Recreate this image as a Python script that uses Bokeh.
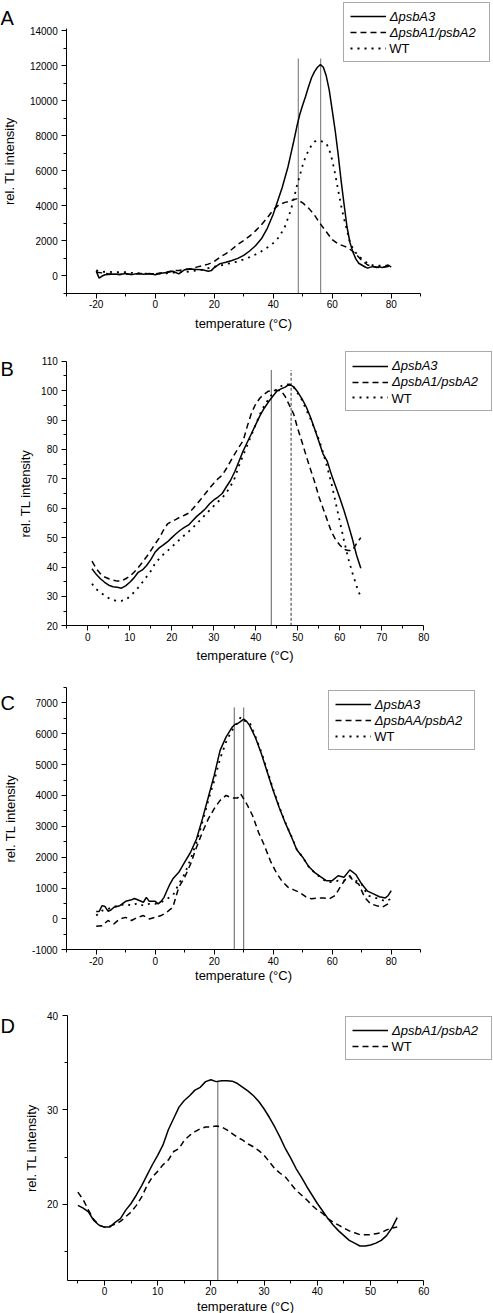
from bokeh.plotting import figure
from bokeh.layouts import column
from bokeh.models import Legend, LegendItem, Label, FixedTicker, Range1d
from bokeh.embed import file_html
from bokeh.resources import INLINE

FONT = "Liberation Sans"

# ---------------- DATA ----------------
# Panel A
a_t_psbA3 = [-20, -19, -18, -17, -16, -14, -12, -10, -8, -6, -4, -2, 0, 2, 4, 6, 8, 10, 12, 14, 16, 18, 19, 20,
             22, 24, 26, 28, 30, 32, 34, 36, 38, 40, 41, 42, 43, 44, 45, 46, 47, 48, 49, 50, 51, 52, 53, 54,
             55, 56, 57, 58, 59, 60, 61, 62, 63, 64, 65, 66, 67, 68, 69, 70, 71, 72, 73, 74, 75, 76, 77, 78, 79, 80]
a_psbA3 = [250, -150, -30, 40, 60, 90, 60, 110, 50, 120, 70, 110, 40, 130, 170, 240, 90, 330, 370, 350, 330, 240, 280, 450,
           680, 760, 860, 980, 1150, 1400, 1700, 2100, 2700, 3500, 4000, 4500, 5000, 5600, 6200, 6950, 7700, 8500, 9200, 9750, 10250, 10800, 11300, 11650,
           11900, 12050, 11900, 11400, 10600, 9450, 8300, 6950, 5450, 4100, 2800, 1900, 1350, 950, 700, 600, 500, 420, 480, 520, 460, 500, 450, 520, 600, 480]
a_t_psbA12 = [-20, -18, -16, -14, -12, -10, -8, -6, -4, -2, 0, 2, 4, 6, 8, 10, 12, 14, 16, 18, 20, 22, 24, 26, 28,
              30, 32, 34, 36, 38, 40, 42, 44, 46, 47, 48, 49, 50, 52, 54, 56, 58, 60, 62, 64, 65, 66, 68, 70, 72,
              74, 76, 78, 80]
a_psbA12 = [190, 150, 100, 80, 60, 90, 60, 100, 110, 90, 95, 150, 200, 280, 280, 350, 380, 480, 560, 650, 800, 1050, 1250, 1500, 1780,
            2000, 2250, 2550, 2900, 3300, 3750, 4050, 4180, 4250, 4350, 4380, 4250, 4150, 3850, 3450, 2950, 2500, 2050, 1800, 1680, 1620, 1500, 1240, 860, 600,
            500, 450, 480, 560]
a_t_wt = [-20, -18, -16, -14, -12, -10, -8, -6, -4, -2, 0, 2, 4, 6, 8, 10, 12, 14, 16, 18, 20, 22, 24, 26, 28, 30,
          32, 34, 36, 38, 40, 42, 44, 46, 47, 48, 49, 50, 51, 52, 53, 54, 55, 56, 57, 58, 59, 60, 61, 62, 63, 64,
          65, 66, 67, 68, 70, 72, 74, 76, 78, 80]
a_wt = [290, 200, 230, 180, 200, 190, 150, 130, 110, 100, 95, 120, 130, 160, 180, 200, 240, 280, 330, 420, 500, 570, 650, 720, 800, 920,
        1050, 1200, 1380, 1600, 1850, 2200, 2800, 3750, 4400, 5100, 5700, 6300, 6800, 7150, 7450, 7650, 7720, 7700, 7620, 7550, 7200, 6600, 5800, 4900, 4000, 3250,
        2600, 1900, 1550, 1300, 950, 700, 560, 560, 560, 570]
a_peaks = [48.5, 56.1]
a_peak_top = 12400

# Panel B
b_t = list(range(1, 66))
b_psbA3 = [39.4, 37.5, 36.0, 34.8, 33.8, 33.3, 33.1, 32.8, 33.6, 34.8, 36.3, 38.2, 39.0, 40.5, 42.5, 45.0, 46.5, 47.5, 48.6, 50.0,
           51.3, 52.5, 53.5, 54.3, 55.8, 57.3, 58.5, 59.8, 61.5, 62.8, 63.8, 65.0, 67.3, 69.5, 72.5, 76.0, 79.5, 82.5, 85.5, 88.5,
           91.5, 94.0, 96.1, 98.0, 99.8, 100.6, 101.2, 102.2, 101.3, 99.5, 97.2, 94.5, 91.0, 87.0, 82.8, 78.5, 76.0, 71.5, 67.5, 63.5,
           59.2, 54.5, 49.5, 44.0, 39.6]
b_psbA12 = [42.0, 39.5, 37.7, 36.6, 36.0, 35.5, 35.2, 35.2, 36.0, 36.8, 38.2, 39.8, 41.6, 43.5, 45.6, 47.8, 49.8, 52.5, 54.7, 55.5,
            56.2, 57.0, 57.6, 58.3, 59.8, 61.5, 63.2, 65.0, 66.8, 68.5, 70.0, 71.2, 73.5, 76.0, 78.5, 80.8, 83.0, 88.0, 92.5, 95.5,
            97.5, 98.8, 99.8, 100.0, 100.0, 100.0, 98.0, 95.0, 92.1, 87.0, 82.5, 77.8, 73.3, 69.0, 64.0, 60.0, 56.0, 52.0, 49.3, 47.5,
            46.0, 45.6, 45.6, 48.0, 50.0]
b_wt = [34.3, 32.5, 31.4, 30.3, 29.4, 28.8, 28.4, 28.5, 28.8, 30.0, 31.4, 33.0, 34.8, 36.7, 38.6, 41.2, 42.8, 44.3, 45.5, 46.8,
        48.2, 49.5, 50.8, 52.0, 53.4, 54.8, 56.3, 57.8, 59.3, 60.8, 62.2, 63.5, 65.3, 67.5, 70.3, 74.5, 78.0, 81.5, 85.0, 88.5,
        92.0, 94.8, 97.0, 99.0, 100.5, 101.5, 102.2, 102.0, 101.2, 99.0, 96.8, 93.5, 90.5, 87.0, 83.5, 79.0, 74.0, 68.5, 62.0, 55.5,
        49.0, 43.0, 38.0, 33.5, 29.7]
b_peak_solid = 43.7
b_peak_dashed = 48.4
b_peak_top = 107

# Panel C
c_t_psbA3 = [-20, -19, -18, -17, -16, -15, -14, -12, -10, -8, -7, -6, -4, -3, -2, 0, 1, 2, 3, 4, 5, 6, 8, 10, 12,
             14, 16, 18, 20, 22, 24, 26, 27, 28, 29, 30, 31, 32, 34, 36, 38, 40, 42, 44, 46, 48, 50, 52, 54, 56,
             58, 60, 62, 64, 66, 68, 70, 72, 74, 76, 78, 79, 80]
c_psbA3 = [240, 240, 430, 400, 250, 290, 380, 430, 570, 620, 660, 620, 540, 700, 570, 570, 490, 570, 700, 920, 1130, 1300, 1510, 1840, 2160,
           2590, 3240, 3940, 4650, 5460, 5890, 6200, 6300, 6330, 6400, 6470, 6400, 6270, 5870, 5350, 4750, 4160, 3620, 3130, 2700, 2240, 2000, 1700, 1510, 1370,
           1240, 1240, 1400, 1350, 1590, 1440, 1130, 900, 810, 720, 680, 760, 920]
c_t_psbA12 = [-20, -18, -16, -14, -12, -10, -8, -6, -4, -2, 0, 2, 4, 6, 8, 10, 12, 14, 16, 18, 20, 22, 24, 26, 28,
              29, 30, 31, 33, 35, 37, 39, 41, 43, 45, 47, 49, 51, 53, 55, 57, 59, 61, 63, 65, 66, 67, 69, 71, 73,
              75, 77, 79, 80]
c_psbA12 = [-240, -220, -50, -160, 0, 50, -50, 50, 110, 0, 50, 110, 220, 380, 1030, 1350, 1780, 2320, 2810, 3240, 3570, 3840, 4000, 3920, 3920,
            4050, 3890, 3730, 3350, 2810, 2380, 1890, 1510, 1220, 1030, 940, 860, 720, 650, 680, 680, 650, 760, 1080, 1350, 1400, 1240, 1130, 700, 490,
            430, 380, 490, 490]
c_t_wt = [-20, -18, -16, -14, -12, -10, -8, -6, -4, -2, 0, 2, 4, 6, 8, 10, 12, 14, 16, 18, 20, 22, 24, 26, 28,
          29, 30, 32, 34, 36, 38, 40, 42, 44, 46, 48, 50, 52, 54, 56, 58, 60, 62, 64, 66, 68, 70, 72, 74, 76,
          78, 80]
c_wt = [110, 270, 320, 400, 430, 490, 430, 510, 430, 490, 490, 540, 650, 760, 1130, 1460, 1940, 2480, 3130, 3840, 4480, 5190, 5730, 6100, 6370,
        6540, 6430, 6370, 5900, 5400, 4800, 4200, 3650, 3150, 2720, 2250, 2000, 1700, 1500, 1350, 1200, 1190, 1240, 1240, 1350, 1240, 1130, 760, 700, 650,
        570, 650]
c_peaks = [26.8, 30.0]
c_peak_top = 6850

# Panel D
d_t = [-5, -4, -3, -2, -1, 0, 1, 2, 3, 4, 5, 6, 7, 8, 9, 10, 11, 12, 13, 14, 15, 16, 17, 18, 19, 20, 21, 22, 23,
       24, 25, 26, 27, 28, 29, 30, 31, 32, 33, 34, 35, 36, 37, 38, 39, 40, 41, 42, 43, 44, 45, 46, 47, 48, 49, 50,
       51, 52, 53, 54, 55]
d_psbA12 = [19.9, 19.6, 19.2, 18.3, 17.8, 17.6, 17.6, 18.1, 18.5, 19.4, 20.1, 21.0, 22.0, 23.1, 24.2, 25.2, 26.3, 27.9, 29.1, 30.3,
            31.0, 31.5, 32.1, 32.4, 33.0, 33.2, 33.0, 33.1, 33.1, 33.05, 32.8, 32.4, 32.0, 31.5, 30.9, 30.1, 29.2, 28.2, 27.1, 25.9,
            24.9, 23.8, 22.9, 21.9, 21.0, 20.1, 19.3, 18.5, 17.8, 17.2, 16.7, 16.2, 15.9, 15.6, 15.6, 15.7, 15.9, 16.2, 16.7, 17.5, 18.6]
d_wt = [21.3, 20.5, 19.4, 18.4, 17.8, 17.6, 17.7, 17.9, 18.2, 18.7, 19.2, 19.9, 20.8, 22.0, 22.9, 23.5, 24.2, 24.7, 25.6, 25.9,
        26.8, 27.3, 27.7, 28.0, 28.2, 28.2, 28.3, 28.2, 27.9, 27.5, 27.1, 26.8, 26.4, 26.1, 25.7, 25.2, 24.5, 23.8, 23.3, 22.9,
        22.2, 21.5, 21.0, 20.5, 19.9, 19.4, 19.05, 18.5, 18.1, 17.8, 17.5, 17.2, 17.0, 16.8, 16.8, 16.8, 16.9, 17.0, 17.3, 17.5, 17.6]
d_peak = 21.3
d_peak_top = 33.1

# Axis ticks and labels
ax_ticks_x = [-20, 0, 20, 40, 60, 80]
ax_minor_x = [-30, -10, 10, 30, 50, 70, 90]
ax_labels_x = ["-20", "0", "20", "40", "60", "80"]
a_ticks_y = [0, 2000, 4000, 6000, 8000, 10000, 12000, 14000]
a_minor_y = [-1000, 1000, 3000, 5000, 7000, 9000, 11000, 13000]
a_labels_y = ["0", "2000", "4000", "6000", "8000", "10000", "12000", "14000"]
b_ticks_x = [0, 10, 20, 30, 40, 50, 60, 70, 80]
b_minor_x = [-5, 5, 15, 25, 35, 45, 55, 65, 75]
b_labels_x = ["0", "10", "20", "30", "40", "50", "60", "70", "80"]
b_ticks_y = [20, 30, 40, 50, 60, 70, 80, 90, 100, 110]
b_minor_y = [25, 35, 45, 55, 65, 75, 85, 95, 105]
b_labels_y = ["20", "30", "40", "50", "60", "70", "80", "90", "100", "110"]
c_ticks_y = [-1000, 0, 1000, 2000, 3000, 4000, 5000, 6000, 7000]
c_minor_y = [-500, 500, 1500, 2500, 3500, 4500, 5500, 6500, 7500]
c_labels_y = ["-1000", "0", "1000", "2000", "3000", "4000", "5000", "6000", "7000"]
d_ticks_x = [0, 10, 20, 30, 40, 50, 60]
d_minor_x = [-5, 5, 15, 25, 35, 45, 55]
d_labels_x = ["0", "10", "20", "30", "40", "50", "60"]
d_ticks_y = [20, 30, 40]
d_minor_y = [15, 25, 35]
d_labels_y = ["20", "30", "40"]

label_psbA3 = "\u0394psbA3"
label_psbA12 = "\u0394psbA1/psbA2"
label_psbAA = "\u0394psbAA/psbA2"
label_wt = "WT"

W = 493
PAD = 6


def make_fig(height, box, xr, yr, xt, xm, xl, yt, ym, yl, ylab_standoff, xlab_standoff):
    """box = (left, right, top, bottom) pixel position of the axes inside the canvas."""
    L, R, T, B = box
    sx = (R - L) / (xr[1] - xr[0])
    sy = (B - T) / (yr[1] - yr[0])
    x_full = (xr[0] - L / sx, xr[1] + (W - R) / sx)
    y_full = (yr[0] - (height - B) / sy, yr[1] + T / sy)
    p = figure(width=W, height=height, x_range=Range1d(*x_full), y_range=Range1d(*y_full),
               output_backend="svg", toolbar_location=None,
               min_border_left=0, min_border_right=0, min_border_top=0, min_border_bottom=0)
    p.outline_line_color = None
    p.xgrid.visible = False
    p.ygrid.visible = False
    p.background_fill_color = "white"
    p.border_fill_color = "white"
    p.xaxis.fixed_location = yr[0]
    p.yaxis.fixed_location = xr[0]
    p.xaxis.bounds = xr
    p.yaxis.bounds = yr
    p.xaxis.ticker = FixedTicker(ticks=xt, minor_ticks=xm)
    p.yaxis.ticker = FixedTicker(ticks=yt, minor_ticks=ym)
    p.xaxis.major_label_overrides = {t: s for t, s in zip(xt, xl)}
    p.yaxis.major_label_overrides = {t: s for t, s in zip(yt, yl)}
    p.xaxis.axis_label = "temperature (\u00b0C)"
    p.yaxis.axis_label = "rel. TL intensity"
    for ax in (p.xaxis, p.yaxis):
        ax.axis_line_color = "black"
        ax.axis_line_width = 1
        ax.major_tick_line_color = "black"
        ax.minor_tick_line_color = "black"
        ax.major_tick_out = 5
        ax.major_tick_in = 0
        ax.minor_tick_out = 3
        ax.minor_tick_in = 0
        ax.major_label_text_font = FONT
        ax.major_label_text_font_size = "10px"
        ax.major_label_text_color = "black"
        ax.axis_label_text_font = FONT
        ax.axis_label_text_font_size = "13px"
        ax.axis_label_text_font_style = "normal"
        ax.axis_label_text_color = "black"
    p.xaxis.major_label_standoff = 2
    p.yaxis.major_label_standoff = 4
    p.yaxis.axis_label_standoff = ylab_standoff
    p.xaxis.axis_label_standoff = xlab_standoff
    return p


def add_legend(p, items, loc, wt_row=True):
    leg = Legend(items=items, location=loc, padding=PAD, spacing=1, margin=0,
                 glyph_width=36, glyph_height=14, label_height=14, label_width=93,
                 label_standoff=4, border_line_color="#555555", border_line_width=1,
                 background_fill_alpha=0.0,
                 label_text_font=FONT, label_text_font_size="13px",
                 label_text_font_style="italic", label_text_color="black")
    p.add_layout(leg)
    if wt_row:
        p.add_layout(Label(x=loc[0] + PAD + 36 + 4, y=loc[1] + PAD + 7.5, x_units="screen", y_units="screen",
                           text=label_wt, text_font=FONT, text_font_size="13px", level="overlay",
                           text_baseline="middle", text_align="left", text_color="black"))


def add_letter(p, letter, y):
    p.add_layout(Label(x=0, y=y, x_units="screen", y_units="screen", text=letter,
                       text_font=FONT, text_font_size="20px", text_baseline="alphabetic",
                       text_align="left", text_color="black"))


SOLID = dict(line_color="black", line_width=1.5)
DASH = dict(line_color="black", line_width=1.5, line_dash="6 4")
DOT = dict(line_color="black", line_width=1.8, line_dash="2 5")

# ---------- A ----------
A_X = (-30, 90)
A_Y = (-1000, 14100)
HA = 332
pA = make_fig(HA, (66.2, 420.2, 28.3, 292.5), A_X, A_Y, ax_ticks_x, ax_minor_x, ax_labels_x,
              a_ticks_y, a_minor_y, a_labels_y, 10, 4)
pA.segment(x0=a_peaks, y0=[A_Y[0]] * len(a_peaks), x1=a_peaks, y1=[a_peak_top] * len(a_peaks),
           line_color="#6e6e6e", line_width=1)
rA1 = pA.line(a_t_psbA3, a_psbA3, **SOLID)
rA2 = pA.line(a_t_psbA12, a_psbA12, **DASH)
rA3 = pA.line(a_t_wt, a_wt, **DOT)
add_legend(pA, [LegendItem(label=label_psbA3, renderers=[rA1]),
                LegendItem(label=label_psbA12, renderers=[rA2]),
                LegendItem(label=" ", renderers=[rA3])], (342.7, HA - 61.7))
add_letter(pA, "A", HA - 17)

# ---------- B ----------
B_X = (-5, 80)
B_Y = (20, 110)
HB = 331
pB = make_fig(HB, (66.3, 423.3, 28.7, 293.3), B_X, B_Y, b_ticks_x, b_minor_x, b_labels_x,
              b_ticks_y, b_minor_y, b_labels_y, 5, 4)
pB.segment(x0=[b_peak_solid], y0=[B_Y[0]], x1=[b_peak_solid], y1=[b_peak_top],
           line_color="#7a7a7a", line_width=1.2)
pB.segment(x0=[b_peak_dashed], y0=[B_Y[0]], x1=[b_peak_dashed], y1=[b_peak_top],
           line_color="#333333", line_width=1, line_dash="3 2")
rB1 = pB.line(b_t, b_psbA3, **SOLID)
rB2 = pB.line(b_t, b_psbA12, **DASH)
rB3 = pB.line(b_t, b_wt, **DOT)
add_legend(pB, [LegendItem(label=label_psbA3, renderers=[rB1]),
                LegendItem(label=label_psbA12, renderers=[rB2]),
                LegendItem(label=" ", renderers=[rB3])], (345, HB - 79.3))
add_letter(pB, "B", HB - 36)

# ---------- C ----------
C_X = (-30, 90)
C_Y = (-1000, 7500)
HC = 323
pC = make_fig(HC, (66.2, 420.2, 23.9, 286.3), C_X, C_Y, ax_ticks_x, ax_minor_x, ax_labels_x,
              c_ticks_y, c_minor_y, c_labels_y, 11, 0)
pC.segment(x0=c_peaks, y0=[C_Y[0]] * len(c_peaks), x1=c_peaks, y1=[c_peak_top] * len(c_peaks),
           line_color="#5e5e5e", line_width=1)
rC1 = pC.line(c_t_psbA3, c_psbA3, **SOLID)
rC2 = pC.line(c_t_psbA12, c_psbA12, **DASH)
rC3 = pC.line(c_t_wt, c_wt, **DOT)
add_legend(pC, [LegendItem(label=label_psbA3, renderers=[rC1]),
                LegendItem(label=label_psbAA, renderers=[rC2]),
                LegendItem(label=" ", renderers=[rC3])], (327.7, HC - 86.7))
add_letter(pC, "C", HC - 39)

# ---------- D ----------
D_X = (-7, 60)
D_Y = (12, 40)
HD = 327
pD = make_fig(HD, (66.7, 423.3, 29, 293.5), D_X, D_Y, d_ticks_x, d_minor_x, d_labels_x,
              d_ticks_y, d_minor_y, d_labels_y, 5, 0)
pD.segment(x0=[d_peak], y0=[D_Y[0]], x1=[d_peak], y1=[d_peak_top],
           line_color="#5e5e5e", line_width=1)
rD1 = pD.line(d_t, d_psbA12, **SOLID)
rD2 = pD.line(d_t, d_wt, **DASH)
add_legend(pD, [LegendItem(label=label_psbA12, renderers=[rD1]),
                LegendItem(label=" ", renderers=[rD2])], (345, HD - 73.7))
add_letter(pD, "D", HD - 39)

layout = column(pA, pB, pC, pD, spacing=0)
open("out.html", "w").write(file_html(layout, INLINE))
